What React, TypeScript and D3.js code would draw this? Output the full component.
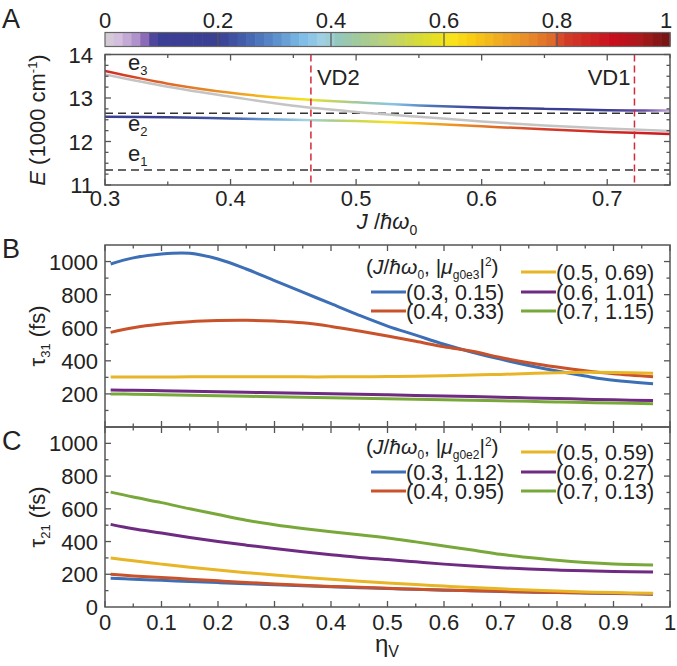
import React from "react";
import * as d3 from "d3";

// panel A: energies vs J/hbar w0
const jGrid = [0.3, 0.35, 0.4, 0.45, 0.5, 0.55, 0.6, 0.65, 0.7, 0.75];
const e3Energy = [13.62, 13.33, 13.12, 12.98, 12.9, 12.83, 12.78, 12.75, 12.72, 12.71];
const e2Energy = [12.57, 12.56, 12.53, 12.5, 12.47, 12.42, 12.35, 12.28, 12.22, 12.17];
const grayEnergy = [13.54, 13.26, 13.03, 12.82, 12.68, 12.57, 12.46, 12.37, 12.3, 12.24];
// colour weight along the curves
const wGrid = [0.3, 0.35, 0.4, 0.43, 0.46, 0.48, 0.5, 0.53, 0.56, 0.6, 0.65, 0.7, 0.73, 0.75];
const e3Weight = [0.85, 0.79, 0.73, 0.67, 0.6, 0.52, 0.45, 0.36, 0.27, 0.2, 0.16, 0.13, 0.08, 0.04];
const e2Weight = [0.15, 0.17, 0.24, 0.32, 0.39, 0.46, 0.53, 0.62, 0.7, 0.77, 0.82, 0.85, 0.87, 0.88];
const e1Level = 11.345;
const dimerLevel = 12.65;
const vdLines = [{ j: 0.464, label: "VD2" }, { j: 0.7217, label: "VD1" }];

// colorbar
const cbPos = [0, 0.015, 0.03, 0.045, 0.06, 0.075, 0.09, 0.2, 0.25, 0.3, 0.35, 0.39, 0.41, 0.45, 0.5, 0.55, 0.59, 0.61, 0.65, 0.7, 0.75, 0.79, 0.81, 0.85, 0.9, 0.95, 1];
const cbCol = ["#c9c9c9", "#dccbe2", "#cdb4da", "#bca3d2", "#a98ac8", "#7d5bb0", "#3b3e95", "#3a3f92", "#4461ad", "#5a8dcc", "#7ebde8", "#a6d3e2", "#93c8c0", "#a3c99a", "#bcd276", "#d3da3c", "#e8e020", "#f9e61c", "#f8cc14", "#f0aa22", "#e88a2a", "#dd6a2a", "#d3402a", "#cf2a24", "#c80c1c", "#a81a1c", "#701414"];
const cbTicks = [0, 0.2, 0.4, 0.6, 0.8, 1];

// panels B and C: lifetimes vs eta_V
const eta = [0.01, 0.05, 0.1, 0.15, 0.2, 0.25, 0.3, 0.35, 0.4, 0.45, 0.5, 0.55, 0.6, 0.65, 0.7, 0.75, 0.8, 0.85, 0.9, 0.97];
const jVals = [0.3, 0.4, 0.5, 0.6, 0.7];
const mu31 = [0.15, 0.33, 0.69, 1.01, 1.15];
const mu21 = [1.12, 0.95, 0.59, 0.27, 0.13];
const seriesColors = ["#3d6fb6", "#c9522a", "#e8b526", "#6f2a82", "#78a83a"];
const tau31 = [
  [985, 1022, 1046, 1050, 1015, 955, 885, 815, 745, 675, 610, 555, 500, 452, 410, 372, 338, 308, 282, 262],
  [572, 600, 622, 636, 643, 645, 640, 630, 608, 580, 550, 518, 485, 458, 420, 388, 362, 340, 322, 304],
  [302, 302, 302, 303, 303, 303, 303, 303, 303, 304, 305, 307, 310, 314, 318, 323, 328, 331, 330, 325],
  [224, 222, 219, 216, 213, 210, 207, 204, 201, 198, 195, 191, 187, 184, 180, 176, 172, 168, 164, 160],
  [200, 198, 195, 192, 189, 186, 183, 180, 177, 174, 171, 168, 165, 162, 158, 155, 151, 148, 145, 140],
];
const tau21 = [
  [175, 170, 163, 156, 149, 142, 136, 130, 124, 118, 113, 108, 103, 99, 95, 91, 88, 85, 82, 78],
  [200, 190, 180, 170, 160, 150, 141, 133, 126, 120, 114, 109, 104, 100, 96, 92, 89, 86, 84, 80],
  [300, 282, 262, 243, 226, 210, 195, 182, 170, 158, 147, 137, 128, 119, 111, 104, 98, 92, 88, 84],
  [505, 478, 452, 425, 400, 378, 357, 338, 320, 303, 290, 276, 262, 250, 240, 232, 226, 221, 217, 214],
  [702, 672, 638, 600, 565, 530, 503, 480, 460, 442, 422, 398, 373, 348, 322, 302, 285, 272, 263, 257],
];

const FONT = "Liberation Sans, Arial, sans-serif";
const AX = "#555";

const xA = d3.scaleLinear().domain([0.3, 0.75]).range([105, 670]);
const yA = d3.scaleLinear().domain([11, 14]).range([185, 54.5]);
const xBC = d3.scaleLinear().domain([0, 1]).range([105, 670]);
const yB = d3.scaleLinear().domain([0, 1100]).range([427, 245]);
const yC = d3.scaleLinear().domain([0, 1100]).range([607, 427]);
const cmap = d3.scaleLinear<string>().domain(cbPos).range(cbCol).interpolate(d3.interpolateRgb);

function Frame({ x, y, xMajor, xMinor, yMajor, yMinor, top = "in", bottom = "in" }: any) {
  const [x0, x1] = x.range();
  const [y0, y1] = y.range(); // y0 bottom, y1 top
  const els: any[] = [];
  const tick = (xv: number, len: number, key: string) => {
    const px = x(xv);
    if (top === "in") els.push(<line key={"t" + key} x1={px} x2={px} y1={y1} y2={y1 + len} />);
    if (bottom === "in") els.push(<line key={"b" + key} x1={px} x2={px} y1={y0} y2={y0 - len} />);
    if (bottom === "both") els.push(<line key={"b" + key} x1={px} x2={px} y1={y0 - len} y2={y0 + len} />);
  };
  xMajor.forEach((v: number, i: number) => tick(v, 6, "M" + i));
  xMinor.forEach((v: number, i: number) => tick(v, 3.5, "m" + i));
  const ytick = (yv: number, len: number, key: string) => {
    const py = y(yv);
    els.push(<line key={"l" + key} x1={x0} x2={x0 + len} y1={py} y2={py} />);
    els.push(<line key={"r" + key} x1={x1} x2={x1 - len} y1={py} y2={py} />);
  };
  yMajor.forEach((v: number, i: number) => ytick(v, 6, "M" + i));
  yMinor.forEach((v: number, i: number) => ytick(v, 3.5, "m" + i));
  return (
    <g stroke={AX} strokeWidth={1.3} fill="none">
      {els}
      <rect x={x0} y={y1} width={x1 - x0} height={y0 - y1} strokeWidth={1.5} />
    </g>
  );
}

function Legend({ top, mu, sub }: { top: number; mu: number[]; sub: string }) {
  const rows = [27, 47, 66];
  const cols = [{ sx: 371, tx: 406 }, { sx: 521, tx: 556 }];
  const place = [
    { c: 0, r: 1 },
    { c: 0, r: 2 },
    { c: 1, r: 0 },
    { c: 1, r: 1 },
    { c: 1, r: 2 },
  ];
  return (
    <g fontFamily={FONT} fontSize={21.5} fill="#222">
      <text x={366} y={top + rows[0] + 2} fontSize={21}>
        (<tspan fontStyle="italic">J</tspan>/<tspan fontStyle="italic">ħω</tspan>
        <tspan dy={5} fontSize={12}>0</tspan>
        <tspan dy={-5}>, |</tspan>
        <tspan fontStyle="italic">μ</tspan>
        <tspan dy={5} fontSize={12}>{sub}</tspan>
        <tspan dy={-5}>|</tspan>
        <tspan dy={-8} fontSize={12}>2</tspan>
        <tspan dy={8}>)</tspan>
      </text>
      {jVals.map((j, i) => {
        const p = place[i];
        const yy = top + rows[p.r];
        const c = cols[p.c];
        return (
          <g key={i}>
            <line x1={c.sx} x2={c.tx} y1={yy} y2={yy} stroke={seriesColors[i]} strokeWidth={3} />
            <text x={c.tx} y={yy + 7.5}>
              ({j.toFixed(1)}, {mu[i].toFixed(2)})
            </text>
          </g>
        );
      })}
    </g>
  );
}

export default function App() {
  const lineA = (vals: number[]) =>
    d3.line<number>().x((_, i) => xA(jGrid[i])).y((d) => yA(d)).curve(d3.curveCatmullRom.alpha(0.5))(vals) || "";
  const lineB = (vals: number[]) =>
    d3.line<number>().x((_, i) => xBC(eta[i])).y((d) => yB(d)).curve(d3.curveCatmullRom.alpha(0.5))(vals) || "";
  const lineC = (vals: number[]) =>
    d3.line<number>().x((_, i) => xBC(eta[i])).y((d) => yC(d)).curve(d3.curveCatmullRom.alpha(0.5))(vals) || "";

  const nBins = 64;
  const bins = d3.range(nBins).map((i) => i / nBins);
  const cbX = d3.scaleLinear().domain([0, 1]).range([105, 670]);

  const aXMajor = [0.3, 0.4, 0.5, 0.6, 0.7];
  const aXMinor = [0.35, 0.45, 0.55, 0.65, 0.75];
  const aYMajor = [11, 12, 13, 14];
  const aYMinor = d3.range(11.25, 14, 0.25).filter((v) => Math.abs(v - Math.round(v)) > 0.01);
  const bcXMajor = d3.range(0, 1.01, 0.1);
  const bcXMinor = d3.range(0.05, 1, 0.1);
  const bcYMajor = [200, 400, 600, 800, 1000];
  const bcYMinor = [100, 300, 500, 700, 900];

  return (
    <svg width={677} height={666} style={{ position: "absolute", left: 0, top: 0, background: "#fff" }}>
      <defs>
        <linearGradient id="gE3" gradientUnits="userSpaceOnUse" x1={xA(0.3)} x2={xA(0.75)} y1={0} y2={0}>
          {wGrid.map((j, i) => (
            <stop key={i} offset={(j - 0.3) / 0.45} stopColor={cmap(e3Weight[i])} />
          ))}
        </linearGradient>
        <linearGradient id="gE2" gradientUnits="userSpaceOnUse" x1={xA(0.3)} x2={xA(0.75)} y1={0} y2={0}>
          {wGrid.map((j, i) => (
            <stop key={i} offset={(j - 0.3) / 0.45} stopColor={cmap(e2Weight[i])} />
          ))}
        </linearGradient>
        <clipPath id="clipA">
          <rect x={105} y={54.5} width={565} height={130.5} />
        </clipPath>
      </defs>

      {/* panel letters */}
      <g fontFamily={FONT} fontSize={27} fill="#222">
        <text x={2} y={28}>A</text>
        <text x={2} y={258}>B</text>
        <text x={2} y={450}>C</text>
      </g>

      {/* colorbar */}
      <g>
        {bins.map((b, i) => (
          <rect key={i} x={cbX(b)} y={32.5} width={565 / nBins + 0.6} height={14} fill={cmap(b + 0.5 / nBins)} />
        ))}
        {cbTicks.slice(1, -1).map((t) => (
          <line key={t} x1={cbX(t)} x2={cbX(t)} y1={32.5} y2={46.5} stroke="#555" strokeWidth={1.2} />
        ))}
        <rect x={105} y={32.5} width={565} height={14} fill="none" stroke="#666" strokeWidth={1.2} />
        <g fontFamily={FONT} fontSize={22} fill="#222" textAnchor="middle">
          {cbTicks.map((t) => (
            <text key={t} x={cbX(t) + (t === 1 ? -4 : 0)} y={28}>{t}</text>
          ))}
        </g>
      </g>

      {/* panel A */}
      <g clipPath="url(#clipA)">
        <line x1={105} x2={670} y1={yA(dimerLevel)} y2={yA(dimerLevel)} stroke="#333" strokeWidth={1.3} strokeDasharray="8,5" />
        <line x1={105} x2={670} y1={yA(e1Level)} y2={yA(e1Level)} stroke="#333" strokeWidth={1.3} strokeDasharray="8,5" />
        <path d={lineA(grayEnergy)} fill="none" stroke="#c4c4c4" strokeWidth={2.5} />
        <path d={lineA(e3Energy)} fill="none" stroke="url(#gE3)" strokeWidth={2.5} />
        <path d={lineA(e2Energy)} fill="none" stroke="url(#gE2)" strokeWidth={2.5} />
        {vdLines.map((v) => (
          <line key={v.label} x1={xA(v.j)} x2={xA(v.j)} y1={54.5} y2={185} stroke="#d42a3a" strokeWidth={1.5} strokeDasharray="7,4" />
        ))}
      </g>
      <Frame x={xA} y={yA} xMajor={aXMajor} xMinor={aXMinor} yMajor={aYMajor} yMinor={aYMinor} />
      <g fontFamily={FONT} fontSize={22} fill="#222">
        <text x={xA(0.464) + 6} y={85}>VD2</text>
        <text x={xA(0.7217) - 4} y={85} textAnchor="end">VD1</text>
        <text x={128} y={70}>e<tspan dy={5} fontSize={13}>3</tspan></text>
        <text x={128} y={131}>e<tspan dy={5} fontSize={13}>2</tspan></text>
        <text x={128} y={161}>e<tspan dy={5} fontSize={13}>1</tspan></text>
        {aXMajor.map((t) => (
          <text key={t} x={xA(t)} y={206} textAnchor="middle">{t}</text>
        ))}
        {aYMajor.map((t) => (
          <text key={t} x={93} y={yA(t) + 8} textAnchor="end">{t}</text>
        ))}
        <text x={387} y={229} textAnchor="middle" fontSize={22}>
          <tspan fontStyle="italic">J</tspan> /<tspan fontStyle="italic">ħω</tspan>
          <tspan dy={6} fontSize={14}>0</tspan>
        </text>
        <text transform="translate(45,120) rotate(-90)" textAnchor="middle" fontSize={22}>
          <tspan fontStyle="italic">E</tspan> (1000 cm<tspan dy={-8} fontSize={13}>-1</tspan>
          <tspan dy={8}>)</tspan>
        </text>
      </g>

      {/* panel B */}
      {tau31.map((s, i) => (
        <path key={i} d={lineB(s)} fill="none" stroke={seriesColors[i]} strokeWidth={3} />
      ))}
      <Frame x={xBC} y={yB} xMajor={bcXMajor} xMinor={bcXMinor} yMajor={bcYMajor} yMinor={bcYMinor} bottom="both" />
      <Legend top={245} mu={mu31} sub="g0e3" />
      <g fontFamily={FONT} fontSize={22} fill="#222">
        {bcYMajor.map((t) => (
          <text key={t} x={98} y={yB(t) + 8} textAnchor="end">{t}</text>
        ))}
        <text transform="translate(45,336) rotate(-90)" textAnchor="middle" fontSize={22}>
          τ<tspan dy={5} fontSize={13}>31</tspan>
          <tspan dy={-5}> (fs)</tspan>
        </text>
      </g>

      {/* panel C */}
      {tau21.map((s, i) => (
        <path key={i} d={lineC(s)} fill="none" stroke={seriesColors[i]} strokeWidth={3} />
      ))}
      <Frame x={xBC} y={yC} xMajor={bcXMajor} xMinor={bcXMinor} yMajor={bcYMajor} yMinor={bcYMinor} top="none" />
      <Legend top={425} mu={mu21} sub="g0e2" />
      <g fontFamily={FONT} fontSize={22} fill="#222">
        {[0, ...bcYMajor].map((t) => (
          <text key={t} x={98} y={yC(t) + 8} textAnchor="end">{t}</text>
        ))}
        {bcXMajor.map((t) => (
          <text key={t} x={xBC(t)} y={630} textAnchor="middle">{+t.toFixed(1)}</text>
        ))}
        <text transform="translate(45,517) rotate(-90)" textAnchor="middle" fontSize={22}>
          τ<tspan dy={5} fontSize={13}>21</tspan>
          <tspan dy={-5}> (fs)</tspan>
        </text>
        <text x={387} y={652} textAnchor="middle" fontSize={24}>
          η<tspan dy={5} fontSize={16}>V</tspan>
        </text>
      </g>
    </svg>
  );
}
